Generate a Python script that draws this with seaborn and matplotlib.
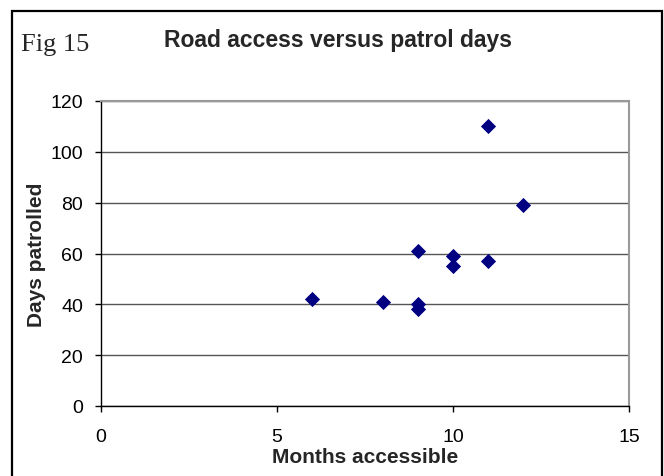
import pandas as pd
import matplotlib.pyplot as plt
import seaborn as sns
from matplotlib.patches import Rectangle

# data
months = [6, 8, 9, 9, 9, 10, 10, 11, 11, 12]
days = [42, 41, 61, 40, 38, 59, 55, 57, 110, 79]

df = pd.DataFrame({"Months accessible": months, "Days patrolled": days})

sns.set_theme(style="white")
plt.rcParams["font.family"] = ["Liberation Sans", "DejaVu Sans"]

fig = plt.figure(figsize=(6.64, 4.77), dpi=100)
ax = fig.add_axes([101 / 664, 1 - 407 / 477, 528 / 664, 305 / 477])

sns.scatterplot(data=df, x="Months accessible", y="Days patrolled", ax=ax,
                marker="D", s=60, color="#000080", edgecolor="#000080",
                linewidth=0, zorder=3)

ax.set_xlim(0, 15)
ax.set_ylim(0, 120)
ax.set_xticks([0, 5, 10, 15])
ax.set_yticks(range(0, 121, 20))
ax.yaxis.grid(True, color="#555555", linewidth=1.0)
ax.xaxis.grid(False)

for side in ["left", "bottom"]:
    ax.spines[side].set_color("black")
    ax.spines[side].set_linewidth(1.0)
for side in ["top", "right"]:
    ax.spines[side].set_color("#999999")
    ax.spines[side].set_linewidth(1.5)

ax.tick_params(axis="both", direction="out", length=4, width=1, color="black",
               labelsize=14, colors="black", left=True, bottom=True)
ax.tick_params(axis="x", pad=12)
ax.tick_params(axis="y", pad=9)

ax.set_xlabel("Months accessible", fontsize=15, fontweight="bold")
ax.set_ylabel("Days patrolled", fontsize=15, fontweight="bold")
ax.xaxis.set_label_coords(0.5, -(458 - 407) / 305)
ax.xaxis.label.set_va("center")
ax.yaxis.set_label_coords((37 - 101) / 528, 0.5)
ax.yaxis.label.set_va("center")

fig.text(338 / 664, 1 - 41 / 477, "Road access versus patrol days",
         ha="center", va="center", fontsize=16.5, fontweight="bold")
fig.text(21 / 664, 1 - 45 / 477, "Fig 15", ha="left", va="center",
         fontsize=19, family=["Liberation Serif", "DejaVu Serif"])

# outer frame around the chart, cut off at right/bottom like the reference
fig.patches.append(Rectangle((12 / 664, -0.05), 650 / 664, 1.05 - 12 / 477,
                             transform=fig.transFigure, fill=False,
                             edgecolor="black", linewidth=1.6))

fig.savefig("out.png", dpi=100)
